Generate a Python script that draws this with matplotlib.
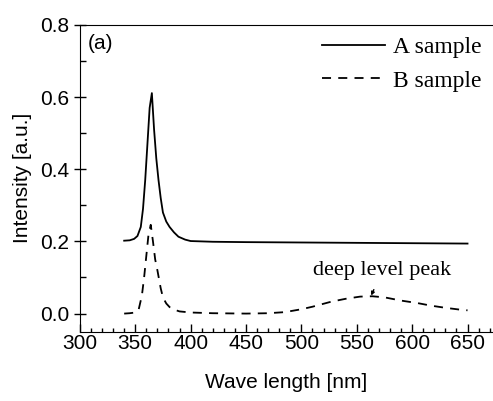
import numpy as np
import matplotlib
matplotlib.use('Agg')
import matplotlib.pyplot as plt
from matplotlib.ticker import MultipleLocator

# A sample (solid)
wl_a = [340, 345, 349, 352, 355, 357, 359, 361, 363, 365, 367, 369, 371, 373, 375,
        378, 381, 385, 389, 395, 400, 420, 450, 500, 550, 600, 650]
int_a = [0.202, 0.203, 0.207, 0.215, 0.24, 0.29, 0.37, 0.47, 0.57, 0.611, 0.51, 0.43, 0.37,
         0.32, 0.28, 0.255, 0.24, 0.225, 0.213, 0.205, 0.201, 0.199, 0.198, 0.197, 0.196, 0.195, 0.194]

# B sample (dashed)
wl_b = [340, 345, 350, 353, 356, 358, 360, 362, 364, 366, 368, 370, 373, 375, 378,
        381, 384, 390, 400, 420, 450, 470, 485, 500, 510, 527, 540, 553, 564, 575,
        590, 605, 617, 630, 643, 650]
int_b = [0.0, 0.001, 0.003, 0.01, 0.05, 0.10, 0.16, 0.22, 0.246, 0.20, 0.15, 0.12, 0.07,
         0.045, 0.028, 0.018, 0.012, 0.006, 0.003, 0.001, 0.0, 0.001, 0.004, 0.012, 0.019,
         0.033, 0.041, 0.047, 0.048, 0.045, 0.036, 0.029, 0.022, 0.016, 0.011, 0.009]

labels = ['A sample', 'B sample']

plt.rcParams['font.family'] = ['Liberation Sans', 'DejaVu Sans']

fig = plt.figure(figsize=(4.93, 4.01), dpi=100)
ax = fig.add_axes([0.162, 0.173, 0.838, 0.765])

ax.plot(wl_a, int_a, color='black', lw=1.3, ls='-', label=labels[0])
ax.plot(wl_b, int_b, color='black', lw=1.3, ls=(0, (5, 4)), label=labels[1])

ax.set_xlim(300, 673)
ax.set_ylim(-0.05, 0.8)
ax.spines['right'].set_visible(False)

ax.xaxis.set_major_locator(MultipleLocator(50))
ax.xaxis.set_minor_locator(MultipleLocator(10))
ax.yaxis.set_major_locator(MultipleLocator(0.2))
ax.yaxis.set_minor_locator(MultipleLocator(0.1))
ax.yaxis.set_major_formatter(matplotlib.ticker.FormatStrFormatter('%.1f'))

ax.tick_params(axis='x', which='major', direction='in', length=6, width=1,
               labelsize=15, pad=2, top=False)
ax.tick_params(axis='x', which='minor', direction='in', length=3, width=1, top=False)
ax.tick_params(axis='y', which='major', direction='inout', length=8, width=1,
               labelsize=15, right=False)
ax.tick_params(axis='y', which='minor', direction='in', length=4, width=1, right=False)

ax.set_xlabel('Wave length [nm]', fontsize=15, labelpad=14)
ax.set_ylabel('Intensity [a.u.]', fontsize=15, labelpad=6)

ax.text(0.02, 0.97, '(a)', transform=ax.transAxes, fontsize=15, va='top', ha='left')

ax.legend(loc='upper right', frameon=False, handlelength=2.7, handletextpad=0.3,
          borderaxespad=0.1, labelspacing=0.5,
          prop={'family': 'Liberation Serif', 'size': 17})

ax.annotate('deep level peak', xy=(563, 0.05), xytext=(573, 0.118),
            ha='center', va='center', fontsize=16, family='Liberation Serif',
            arrowprops=dict(arrowstyle='-|>', color='black', lw=1,
                            mutation_scale=5, shrinkA=5, shrinkB=0))

fig.savefig('out.png', dpi=100)
